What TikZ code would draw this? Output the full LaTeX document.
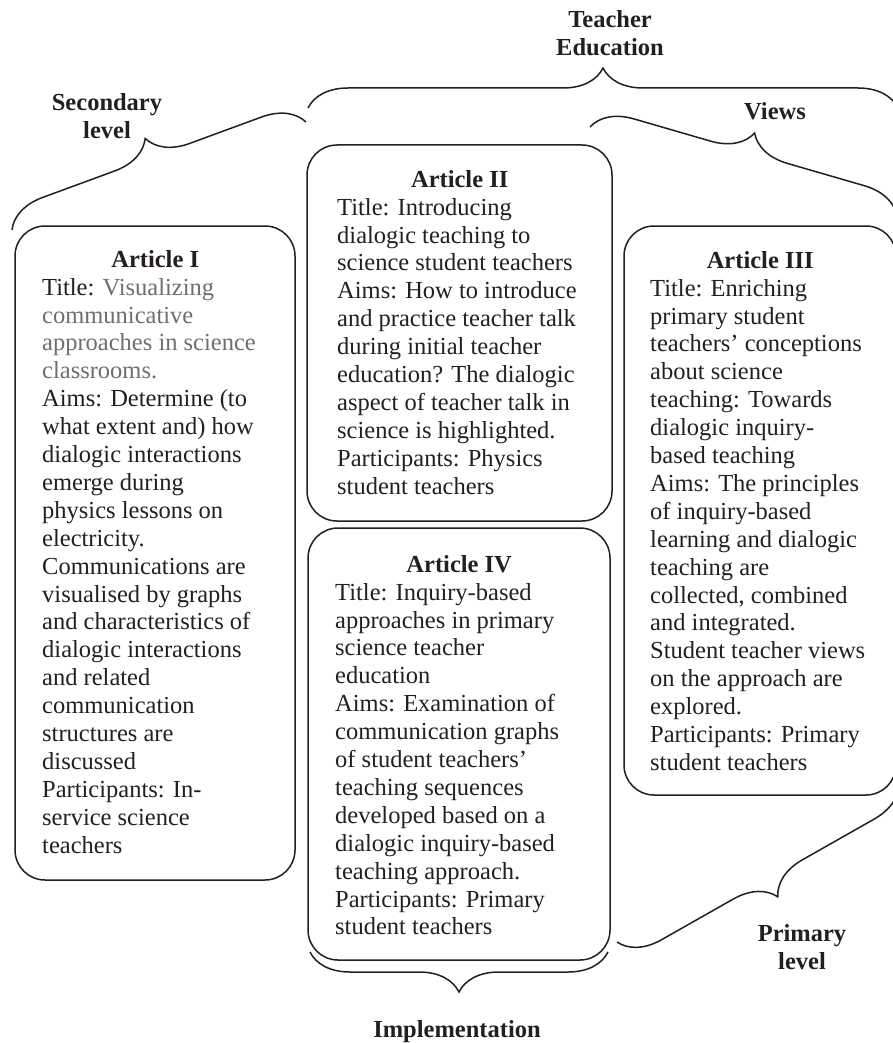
\documentclass[tikz,border=0pt]{standalone}
\usepackage{fontspec}
\setmainfont{Liberation Serif}
\usetikzlibrary{decorations.pathreplacing}
\definecolor{ink}{HTML}{231F20}
\definecolor{titlegray}{HTML}{6D6E71}
\newcommand\bodyfont{\fontsize{24.5}{27.9}\selectfont}
\begin{document}
\begin{tikzpicture}[x=1pt,y=-1pt,
  box/.style={draw=ink, line width=1.5pt, rounded corners=30pt, inner sep=0pt},
  txt/.style={anchor=north west, inner sep=0pt, align=left, font=\bodyfont, text=ink},
  lab/.style={anchor=north, inner sep=0pt, align=center, font=\bodyfont\bfseries, text=ink},
  bracepath/.style={draw=ink, line width=1.5pt, decorate, decoration={brace, amplitude=40pt}}]
\useasboundingbox (0,0) rectangle (893,1043);

% boxes
\node[box, minimum width=280pt, minimum height=654pt] (b1) at (155,553) {};
\node[box, minimum width=305pt, minimum height=376pt] (b2) at (459.5,333) {};
\node[box, minimum width=302pt, minimum height=432pt] (b4) at (459,744) {};
\node[box, minimum width=272pt, minimum height=569pt] (b3) at (760,510.5) {};

% texts
\node[txt] (t1) at (42,250) {\makebox[226pt][c]{\bfseries Article I}\\
Title: \textcolor{titlegray}{Visualizing}\\
\textcolor{titlegray}{communicative}\\
\textcolor{titlegray}{approaches in science}\\
\textcolor{titlegray}{classrooms.}\\
Aims: Determine (to\\
what extent and) how\\
dialogic interactions\\
emerge during\\
physics lessons on\\
electricity.\\
Communications are\\
visualised by graphs\\
and characteristics of\\
dialogic interactions\\
and related\\
communication\\
structures are\\
discussed\\
Participants: In-\\
service science\\
teachers};

\node[txt] (t2) at (337,170) {\makebox[245pt][c]{\bfseries Article II}\\
Title: Introducing\\
dialogic teaching to\\
science student teachers\\
Aims: How to introduce\\
and practice teacher talk\\
during initial teacher\\
education? The dialogic\\
aspect of teacher talk in\\
science is highlighted.\\
Participants: Physics\\
student teachers};

\node[txt] (t3) at (650,251) {\makebox[220pt][c]{\bfseries Article III}\\
Title: Enriching\\
primary student\\
teachers’ conceptions\\
about science\\
teaching: Towards\\
dialogic inquiry-\\
based teaching\\
Aims: The principles\\
of inquiry-based\\
learning and dialogic\\
teaching are\\
collected, combined\\
and integrated.\\
Student teacher views\\
on the approach are\\
explored.\\
Participants: Primary\\
student teachers};

\node[txt] (t4) at (335,555) {\makebox[248pt][c]{\bfseries Article IV}\\
Title: Inquiry-based\\
approaches in primary\\
science teacher\\
education\\
Aims: Examination of\\
communication graphs\\
of student teachers’\\
teaching sequences\\
developed based on a\\
dialogic inquiry-based\\
teaching approach.\\
Participants: Primary\\
student teachers};

% labels
\node[lab] (lsec) at (107,93) {Secondary\\level};
\node[lab] (lte) at (610,10) {Teacher\\Education};
\node[lab] (lviews) at (775,102) {Views};
\node[lab] (limp) at (457,1020) {Implementation};
\node[lab] (lprim) at (802,924) {Primary\\level};

% brace end points
\coordinate (secA) at (12,230);
\coordinate (secB) at (306,122);
\coordinate (teA) at (308,108);
\coordinate (teB) at (898,108);
\coordinate (viA) at (590,127);
\coordinate (viB) at (897,216);
\coordinate (imA) at (608,952);
\coordinate (imB) at (310,952);
\coordinate (prA) at (899,782);
\coordinate (prB) at (617,942);

\draw[bracepath] (secA) -- (secB);
\draw[bracepath] (teA) -- (teB);
\draw[bracepath] (viA) -- (viB);
\draw[bracepath] (imA) -- (imB);
\draw[bracepath] (prA) -- (prB);
\end{tikzpicture}
\end{document}
